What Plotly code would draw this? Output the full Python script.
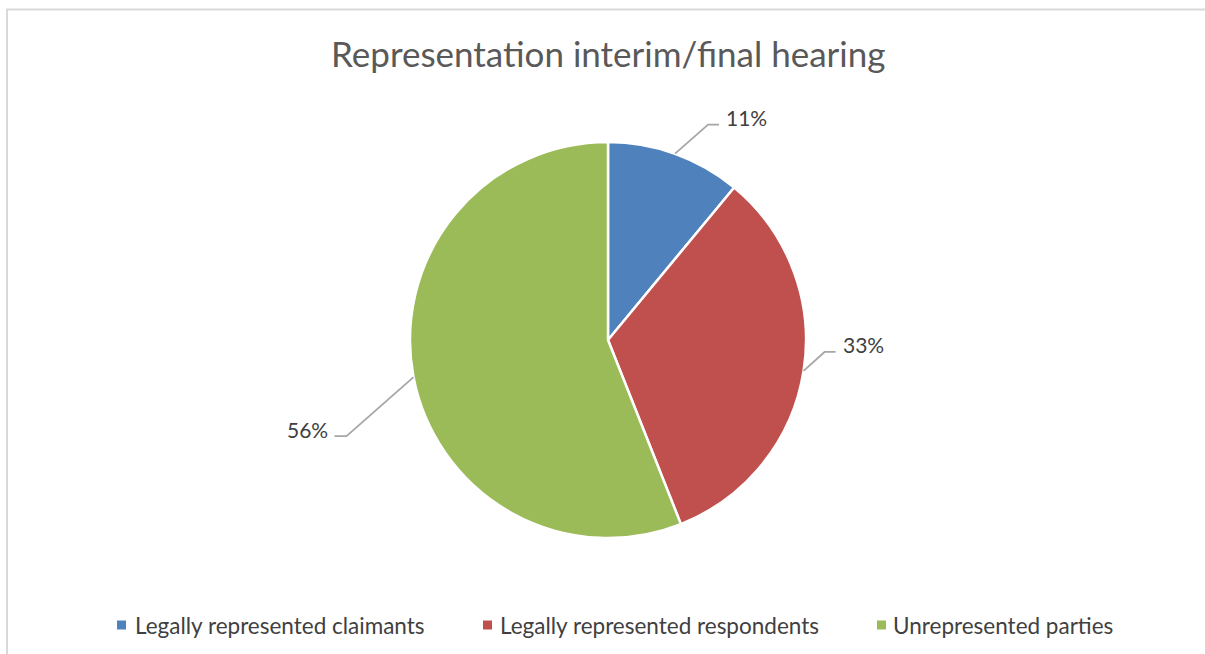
import math
import plotly.graph_objects as go

# ---------------- data ----------------
categories = ["Legally represented claimants",
              "Legally represented respondents",
              "Unrepresented parties"]
values = [11, 33, 56]
title_text = "Representation interim/final hearing"

# ---------------- style ----------------
colors = ["#4F81BD", "#C0504D", "#9BBB59"]
W, H = 1205, 654
CX, CY, R = 608, 340, 198          # pie centre / radius in px
FONT = "Lato, 'Open Sans', sans-serif"
TEXT_COL = "#404040"
LINE_COL = "#A6A6A6"
# leader-line geometry per slice: elbow offset (dx, dy) and horizontal run (px)
leader_style = [(33, -29, 11), (21, -19, 11), (-67, 59, -12)]
# legend layout: symbol left edge, text left edge (px)
legend_sym_x = [117, 483, 877]
legend_txt_x = [133, 498, 891]
LEGEND_Y = 625


def px(x):
    return x / W


def py(y):
    return 1 - y / H


fig = go.Figure()
fig.add_trace(go.Pie(
    labels=categories,
    values=values,
    sort=False,
    direction="clockwise",
    rotation=0,
    marker=dict(colors=colors, line=dict(color="white", width=2.5)),
    textinfo="none",
    hoverinfo="label+percent",
    showlegend=False,
    domain=dict(x=[px(CX - R), px(CX + R)], y=[py(CY + R), py(CY - R)]),
))

shapes = []
annotations = []

# frame
shapes.append(dict(type="rect", xref="paper", yref="paper",
                   x0=px(7), x1=px(W + 20), y0=py(H + 20), y1=py(9.5),
                   line=dict(color="#D9D9D9", width=2), fillcolor="rgba(0,0,0,0)"))

# data labels with leader lines
total = sum(values)
cum = 0
for v, (dx, dy, run) in zip(values, leader_style):
    mid = (cum + v / 2) / total * 2 * math.pi
    cum += v
    ax = CX + R * math.sin(mid)
    ay = CY - R * math.cos(mid)
    ex, ey = ax + dx, ay + dy
    hx = ex + run
    path = "M {:.5f},{:.5f} L {:.5f},{:.5f} L {:.5f},{:.5f}".format(
        px(ax), py(ay), px(ex), py(ey), px(hx), py(ey))
    shapes.append(dict(type="path", xref="paper", yref="paper", path=path,
                       line=dict(color=LINE_COL, width=1.75)))
    pct = "{:.0f}%".format(v / total * 100)
    right = run > 0
    annotations.append(dict(
        x=px(hx + (5 if right else -5)), y=py(ey - 7), xref="paper", yref="paper",
        text=pct, showarrow=False, xanchor="left" if right else "right",
        yanchor="middle", font=dict(family=FONT, size=21, color=TEXT_COL)))

# title
annotations.append(dict(x=px(CX), y=py(53), xref="paper", yref="paper",
                        text=title_text, showarrow=False, xanchor="center",
                        yanchor="middle",
                        font=dict(family=FONT, size=35, color="#595959")))

# legend
for name, col, sx, tx in zip(categories, colors, legend_sym_x, legend_txt_x):
    shapes.append(dict(type="rect", xref="paper", yref="paper",
                       x0=px(sx), x1=px(sx + 9), y0=py(LEGEND_Y + 4.5),
                       y1=py(LEGEND_Y - 4.5), line=dict(width=0), fillcolor=col))
    annotations.append(dict(x=px(tx), y=py(LEGEND_Y), xref="paper", yref="paper",
                            text=name, showarrow=False, xanchor="left",
                            yanchor="middle",
                            font=dict(family=FONT, size=22.5, color=TEXT_COL)))

fig.update_layout(
    width=W, height=H,
    margin=dict(l=0, r=0, t=0, b=0),
    paper_bgcolor="white",
    plot_bgcolor="white",
    shapes=shapes,
    annotations=annotations,
)

fig.write_html(
    "out.html",
    config={"displayModeBar": False},
    post_script="document.body.style.margin='0';document.body.style.overflow='hidden';",
)
